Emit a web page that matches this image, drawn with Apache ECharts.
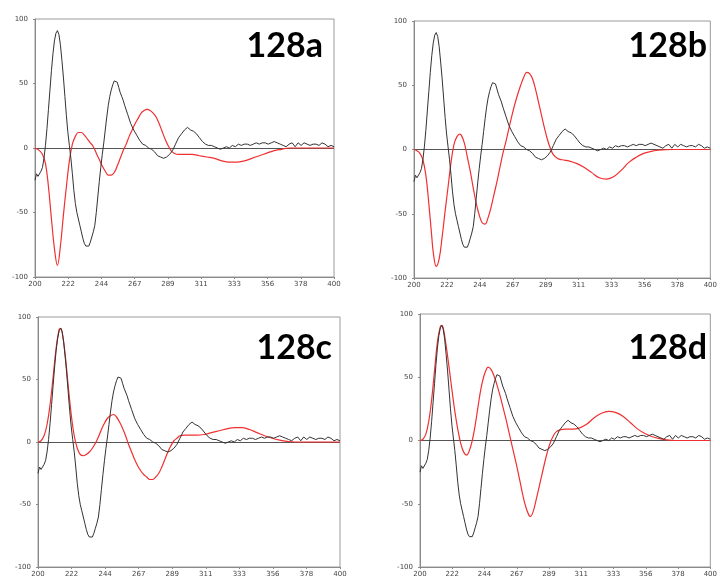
<!DOCTYPE html>
<html>
<head>
<meta charset="utf-8">
<script src="https://cdn.jsdelivr.net/npm/echarts@6/dist/echarts.min.js"></script>
<style>html,body{margin:0;padding:0;background:#fff}#c{width:720px;height:578px}</style>
</head>
<body>
<div id="c"></div>
<script>
// Panel titles
const panelTitles = ['128a', '128b', '128c', '128d'];
// x-axis range (nm) and tick count
const xMin = 200, xMax = 400, xSteps = 9;
const yTicks = [-100, -50, 0, 50, 100];

// Experimental spectrum (black), same in all panels: [nm, value]
const expCurve = [
[200,-25],[201,-20],[202,-22],[203,-21],[204,-18],[205,-15],[206,-8],[207,2],[208,15],[209,30],[210,45],[211,60],[212,73],[213,83],[214,89],[215,91],[216,88],[217,80],[218,68],[219,55],[220,40],[221,25],[222,12],[223,2],[224,-8],[225,-20],[226,-33],[227,-43],[228,-50],[229,-55],[230,-60],[231,-65],[232,-70],[233,-74],[234,-76],[235,-77],[236,-76],[237,-73],[238,-69],[239,-65],[240,-60],[241,-50],[242,-38],[243,-26],[244,-15],[245,-5],[246,4],[247,14],[248,24],[249,33],[250,40],[251,45],[252,49],[253,52],[254,53],[255,51],[256,47],[257,43],[258,40],[259,37],[260,33],[262,26],[264,19],[266,14],[268,10],[270,6],[272,3],[274,2],[276,0],[278,-1],[280,-3],[282,-6],[284,-7],[286,-8],[288,-7],[290,-5],[292,-2],[294,3],[296,8],[298,11],[300,14],[302,16],[304,14],[306,13],[308,11],[310,8],[312,5],[314,3],[316,2],[318,2],[320,1],[322,0],[324,-1],[326,0],[328,1],[330,0],[332,2],[334,1],[336,3],[338,2],[340,3],[342,3],[344,2],[346,3],[348,4],[350,3],[352,4],[354,4],[356,3],[358,4],[360,5],[362,4],[364,3],[366,2],[368,1],[370,3],[372,4],[374,1],[376,4],[378,2],[380,4],[382,3],[384,2],[386,3],[388,3],[390,2],[392,4],[394,3],[396,1],[398,2],[400,1]
];

// Calculated spectra (red), one per panel
const calcA = [
[200,0],[203,-2],[205,-5],[207,-12],[209,-30],[211,-55],[213,-78],[215,-91],[217,-76],[219,-52],[221,-30],[223,-10],[225,3],[227,9],[229,12],[231,12],[233,10],[235,7],[237,4],[239,1],[241,-4],[243,-9],[245,-14],[247,-18],[249,-21],[251,-21],[253,-19],[255,-14],[257,-8],[259,-2],[261,3],[263,9],[265,14],[267,19],[269,23],[271,27],[273,29],[275,30],[277,29],[279,27],[281,24],[283,19],[285,13],[287,7],[289,2],[291,-2],[293,-4],[296,-5],[300,-5],[305,-5],[310,-6],[315,-7],[320,-8],[325,-10],[330,-11],[335,-11],[340,-10],[345,-8],[350,-6],[355,-4],[360,-2],[365,-1],[370,0],[400,0]
];
const calcB = [
[200,0],[202,-1],[204,-3],[206,-8],[208,-20],[210,-42],[212,-68],[213,-80],[215,-91],[217,-85],[219,-68],[221,-48],[223,-29],[225,-10],[227,4],[229,10],[231,12],[232,11],[234,5],[236,-6],[238,-17],[240,-30],[242,-42],[244,-51],[246,-57],[248,-58],[250,-53],[252,-45],[254,-35],[256,-25],[258,-14],[260,-3],[262,6],[264,16],[266,26],[268,35],[270,43],[272,50],[274,56],[276,60],[278,59],[280,55],[282,47],[284,37],[286,27],[288,17],[290,8],[292,1],[294,-4],[297,-7],[300,-8],[305,-9],[310,-11],[315,-14],[320,-18],[325,-22],[330,-23],[335,-21],[340,-16],[345,-10],[350,-6],[355,-3],[360,-1.5],[365,-0.5],[375,0],[400,0]
];
const calcC = [
[200,0],[202,1],[204,5],[206,14],[208,30],[210,52],[212,75],[214,90],[215,91],[216,88],[218,70],[220,45],[222,22],[224,5],[226,-5],[228,-10],[230,-11],[232,-10],[234,-8],[236,-5],[238,-1],[240,4],[242,10],[244,15],[246,19],[248,21],[250,22],[252,20],[254,16],[256,11],[258,5],[260,-2],[262,-8],[264,-14],[266,-19],[268,-23],[270,-26],[272,-28],[274,-30],[276,-30],[278,-28],[280,-25],[282,-20],[284,-14],[286,-8],[288,-3],[290,1],[292,3],[294,5],[297,5.5],[300,5.5],[305,5.5],[310,6],[315,7.5],[320,9],[325,10.5],[330,11.5],[335,11.5],[340,10],[345,7.5],[350,5],[355,3],[360,1.5],[365,0.5],[370,0],[400,0]
];
const calcD = [
[200,0],[202,1],[204,5],[206,15],[208,32],[210,55],[212,78],[214,90],[215,91],[216,89],[218,75],[220,58],[222,40],[224,23],[226,9],[228,-2],[230,-9],[232,-11.5],[234,-8],[236,0],[238,12],[240,27],[242,41],[244,51],[246,57],[247,58],[249,56],[251,51],[253,44],[255,36],[257,27],[259,18],[261,8],[263,-2],[265,-12],[267,-22],[269,-33],[271,-44],[273,-53],[275,-59],[276,-60],[278,-56],[280,-47],[282,-37],[284,-27],[286,-17],[288,-8],[290,-1],[292,4],[294,7],[297,8.5],[300,9],[305,9],[310,10],[315,13],[320,18],[325,21.5],[330,23],[335,22],[340,19],[345,14],[350,9],[355,5.5],[360,3],[365,1.5],[370,0.5],[376,0],[400,0]
];
const calcCurves = [calcA, calcB, calcC, calcD];

// Layout (pixels)
const grids = [
  {left: 35, top: 19, width: 299, height: 258},
  {left: 414, top: 21, width: 303, height: 257},
  {left: 38, top: 317, width: 302, height: 250},
  {left: 420, top: 314, width: 302, height: 254}
];
const titlePos = [[323, 46], [707, 46], [332, 348], [707, 348]];

const labelStyle = {fontSize: 7, color: '#444', fontFamily: 'DejaVu Sans'};
const xAxes = [], yAxes = [], series = [], graphics = [];
grids.forEach((g, i) => {
  g.show = true; g.borderColor = '#9a9a9a'; g.borderWidth = 1; g.backgroundColor = '#fff';
  xAxes.push({
    type: 'value', gridIndex: i, min: xMin, max: xMax, interval: (xMax - xMin) / xSteps,
    axisLine: {onZero: false, lineStyle: {color: '#8a8a8a', width: 1}},
    axisTick: {show: true, length: 2, inside: false, lineStyle: {color: '#8a8a8a'}},
    splitLine: {show: false},
    axisLabel: Object.assign({margin: 4, formatter: v => String(Math.round(v)), showMaxLabel: true, showMinLabel: true}, labelStyle)
  });
  yAxes.push({
    type: 'value', gridIndex: i, min: yTicks[0], max: yTicks[yTicks.length - 1], interval: 50,
    axisLine: {show: true, lineStyle: {color: '#8a8a8a', width: 1}},
    axisTick: {show: true, length: 2, lineStyle: {color: '#8a8a8a'}},
    splitLine: {show: false},
    axisLabel: Object.assign({margin: 7}, labelStyle)
  });
  series.push({
    type: 'line', xAxisIndex: i, yAxisIndex: i, data: calcCurves[i], showSymbol: false, smooth: 0.4,
    lineStyle: {color: '#f03030', width: 1.2}, z: 3, silent: true,
    markLine: {silent: true, symbol: 'none', label: {show: false}, lineStyle: {color: '#555', width: 1, type: 'solid'}, data: [{yAxis: 0}], z: 1}
  });
  series.push({
    type: 'line', xAxisIndex: i, yAxisIndex: i, data: expCurve, showSymbol: false,
    lineStyle: {color: '#333', width: 1}, z: 4, silent: true
  });
  graphics.push({
    type: 'text', x: titlePos[i][0], y: titlePos[i][1], z: 10,
    style: {text: panelTitles[i], fill: '#000', font: 'bold 34px Lato', textAlign: 'right', textVerticalAlign: 'middle'}
  });
});

const chart = echarts.init(document.getElementById('c'), null, {renderer: 'canvas'});
chart.setOption({
  animation: false,
  backgroundColor: '#fff',
  grid: grids, xAxis: xAxes, yAxis: yAxes, series: series, graphic: graphics
});
</script>
</body>
</html>
